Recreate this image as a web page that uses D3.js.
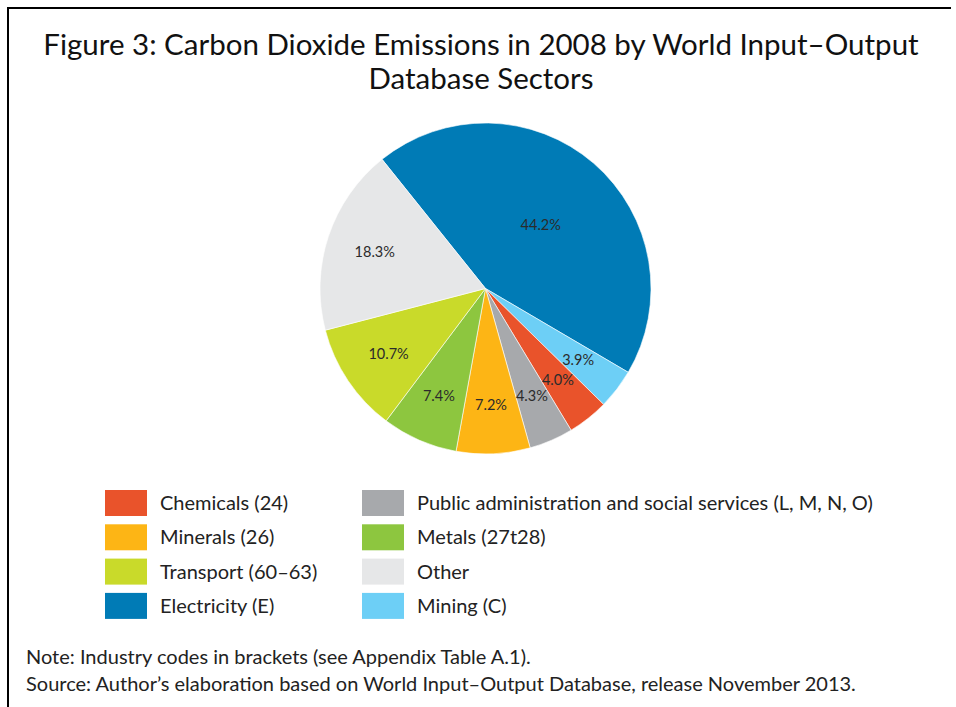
<!DOCTYPE html>
<html><head><meta charset="utf-8">
<script src="https://cdn.jsdelivr.net/npm/d3@7"></script>
<style>body{margin:0;background:#fff}svg{display:block}text{font-family:Lato,"Open Sans",sans-serif}</style>
</head><body>
<svg id="c" width="956" height="707"></svg>
<script>
// Data
const sectors = ["Electricity (E)", "Mining (C)", "Chemicals (24)", "Public administration and social services (L, M, N, O)", "Minerals (26)", "Metals (27t28)", "Transport (60–63)", "Other"];
const shares = [44.2, 3.9, 4.0, 4.3, 7.2, 7.4, 10.7, 18.3];
const colors = ["#007BB6", "#6DCFF6", "#E9532B", "#A7A9AC", "#FDB515", "#8DC63F", "#C9DA2A", "#E6E7E8"];
const legendOrder = ["Chemicals (24)", "Minerals (26)", "Transport (60–63)", "Electricity (E)", "Public administration and social services (L, M, N, O)", "Metals (27t28)", "Other", "Mining (C)"];
const titleLines = ["Figure 3: Carbon Dioxide Emissions in 2008 by World Input–Output", "Database Sectors"];
const notes = ["Note: Industry codes in brackets (see Appendix Table A.1).", "Source: Author’s elaboration based on World Input–Output Database, release November 2013."];

const svg = d3.select("#c");
// frame (top and left)
svg.append("path").attr("d","M8,707 V8 H951").attr("fill","none").attr("stroke","#000").attr("stroke-width",2);

svg.selectAll("text.title").data(titleLines).join("text").attr("class","title")
  .attr("x",481).attr("y",(d,i)=>55+i*34).attr("text-anchor","middle")
  .attr("font-size",29.5).attr("fill","#111").text(d=>d);

const data = sectors.map((s,i)=>({name:s,value:shares[i],color:colors[i]}));
const cx=485.5, cy=288.5, R=165.5;
const startA = -38.7*Math.PI/180;
const pie = d3.pie().value(d=>d.value).sort(null).startAngle(startA).endAngle(startA+2*Math.PI);
const arcs = pie(data);
const arc = d3.arc().innerRadius(0).outerRadius(R);
const g = svg.append("g").attr("transform",`translate(${cx},${cy})`);
g.selectAll("path").data(arcs).join("path").attr("d",arc).attr("fill",d=>d.data.color)
  .attr("stroke","#fff").attr("stroke-width",0.6);
const labelArc = d3.arc().innerRadius(R*0.705).outerRadius(R*0.705);
const labelArcBig = d3.arc().innerRadius(R*0.51).outerRadius(R*0.51);
g.selectAll("text").data(arcs).join("text")
  .attr("transform",d=>`translate(${(d.data.value>30?labelArcBig:labelArc).centroid(d)})`)
  .attr("text-anchor","middle").attr("dy","0.35em").attr("font-size",14.5).attr("fill","#2b2b2b")
  .text(d=>d.data.value.toFixed(1)+"%");

// legend
const colorOf = Object.fromEntries(sectors.map((s,i)=>[s,colors[i]]));
const lg = svg.append("g");
const items = lg.selectAll("g").data(legendOrder).join("g")
  .attr("transform",(d,i)=>`translate(${i<4?105:362},${490+(i%4)*34.3})`);
items.append("rect").attr("width",42).attr("height",26).attr("fill",d=>colorOf[d]);
items.append("text").attr("x",55).attr("y",13).attr("dy","0.35em").attr("font-size",20).attr("fill","#222").text(d=>d);

svg.selectAll("text.note").data(notes).join("text").attr("class","note")
  .attr("x",26).attr("y",(d,i)=>664+i*27).attr("font-size",20).attr("fill","#222").text(d=>d);
</script>
</body></html>
